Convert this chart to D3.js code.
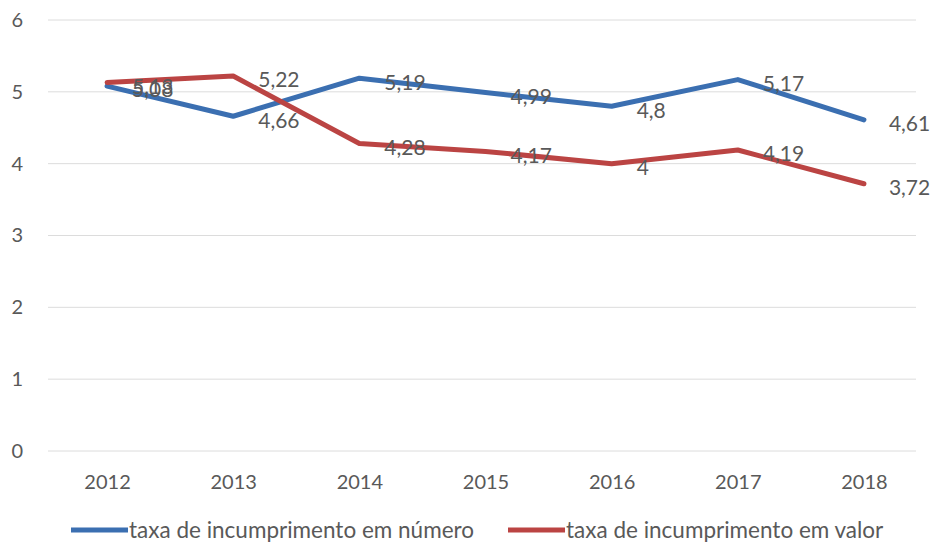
<!DOCTYPE html>
<html>
<head>
<meta charset="utf-8">
<script src="https://cdn.jsdelivr.net/npm/d3@7"></script>
<style>
  html, body { margin: 0; padding: 0; background: #fff; }
  svg { display: block; }
  text { font-family: Lato, "Open Sans", sans-serif; fill: #595959; }
</style>
</head>
<body>
<svg id="chart" width="934" height="552"></svg>
<script>
// Default rates by year
const years = ["2012", "2013", "2014", "2015", "2016", "2017", "2018"];
const taxaNumero = [5.08, 4.66, 5.19, 4.99, 4.8, 5.17, 4.61];
const taxaValor = [5.13, 5.22, 4.28, 4.17, 4.0, 4.19, 3.72];
const yTicks = [0, 1, 2, 3, 4, 5, 6];
const seriesNames = ["taxa de incumprimento em número", "taxa de incumprimento em valor"];
const seriesColors = ["#3b6fb1", "#bb4443"];

const svg = d3.select("#chart");
const margin = { left: 44, right: 7, top: 20, bottom: 101 };
const W = 934, H = 552;
const FONT = "Lato, 'Open Sans', sans-serif";

const x = d3.scalePoint()
  .domain(years)
  .range([margin.left, W - margin.right])
  .padding(0.5);

const y = d3.scaleLinear()
  .domain([0, 6])
  .range([H - margin.bottom, margin.top]);

// Horizontal gridlines
svg.append("g")
  .selectAll("line")
  .data(yTicks)
  .join("line")
  .attr("x1", 48)
  .attr("x2", 916)
  .attr("y1", d => y(d))
  .attr("y2", d => y(d))
  .attr("stroke", "#dcdcdc")
  .attr("stroke-width", 1);

// Y axis labels
const yAxis = d3.axisLeft(y).tickValues(yTicks).tickSize(0).tickPadding(0).tickFormat(d3.format("d"));
svg.append("g")
  .attr("transform", "translate(23,0)")
  .call(yAxis)
  .call(g => g.select(".domain").remove())
  .selectAll("text")
  .attr("font-size", 20)
  .attr("fill", "#595959")
  .attr("font-family", FONT);

// X axis labels
const xAxis = d3.axisBottom(x).tickSize(0).tickPadding(0);
svg.append("g")
  .attr("transform", `translate(0,${y(0) + 24})`)
  .call(xAxis)
  .call(g => g.select(".domain").remove())
  .selectAll("text")
  .attr("font-size", 20)
  .attr("fill", "#595959")
  .attr("font-family", FONT);

const series = [taxaNumero, taxaValor];
const line = d3.line()
  .x((d, i) => x(years[i]))
  .y(d => y(d));

series.forEach((vals, s) => {
  svg.append("path")
    .datum(vals)
    .attr("d", line)
    .attr("fill", "none")
    .attr("stroke", seriesColors[s])
    .attr("stroke-width", 5)
    .attr("stroke-linejoin", "round")
    .attr("stroke-linecap", "round");
});

// Value labels to the right of each point
const fmt = v => String(v).replace(".", ",");
series.forEach((vals, s) => {
  svg.append("g")
    .selectAll("text")
    .data(vals)
    .join("text")
    .attr("x", (d, i) => x(years[i]) + 25)
    .attr("y", d => y(d) + 4)
    .attr("dy", "0.35em")
    .attr("font-size", 21)
    .attr("fill", "#454545")
    .text(fmt);
});

// Legend
const legendX = [71, 508];
const legend = svg.append("g");
seriesNames.forEach((name, s) => {
  legend.append("line")
    .attr("x1", legendX[s])
    .attr("x2", legendX[s] + 57)
    .attr("y1", 530)
    .attr("y2", 530)
    .attr("stroke", seriesColors[s])
    .attr("stroke-width", 5);
  legend.append("text")
    .attr("x", legendX[s] + 58)
    .attr("y", 530)
    .attr("dy", "0.35em")
    .attr("font-size", 22.5)
    .text(name);
});
</script>
</body>
</html>
